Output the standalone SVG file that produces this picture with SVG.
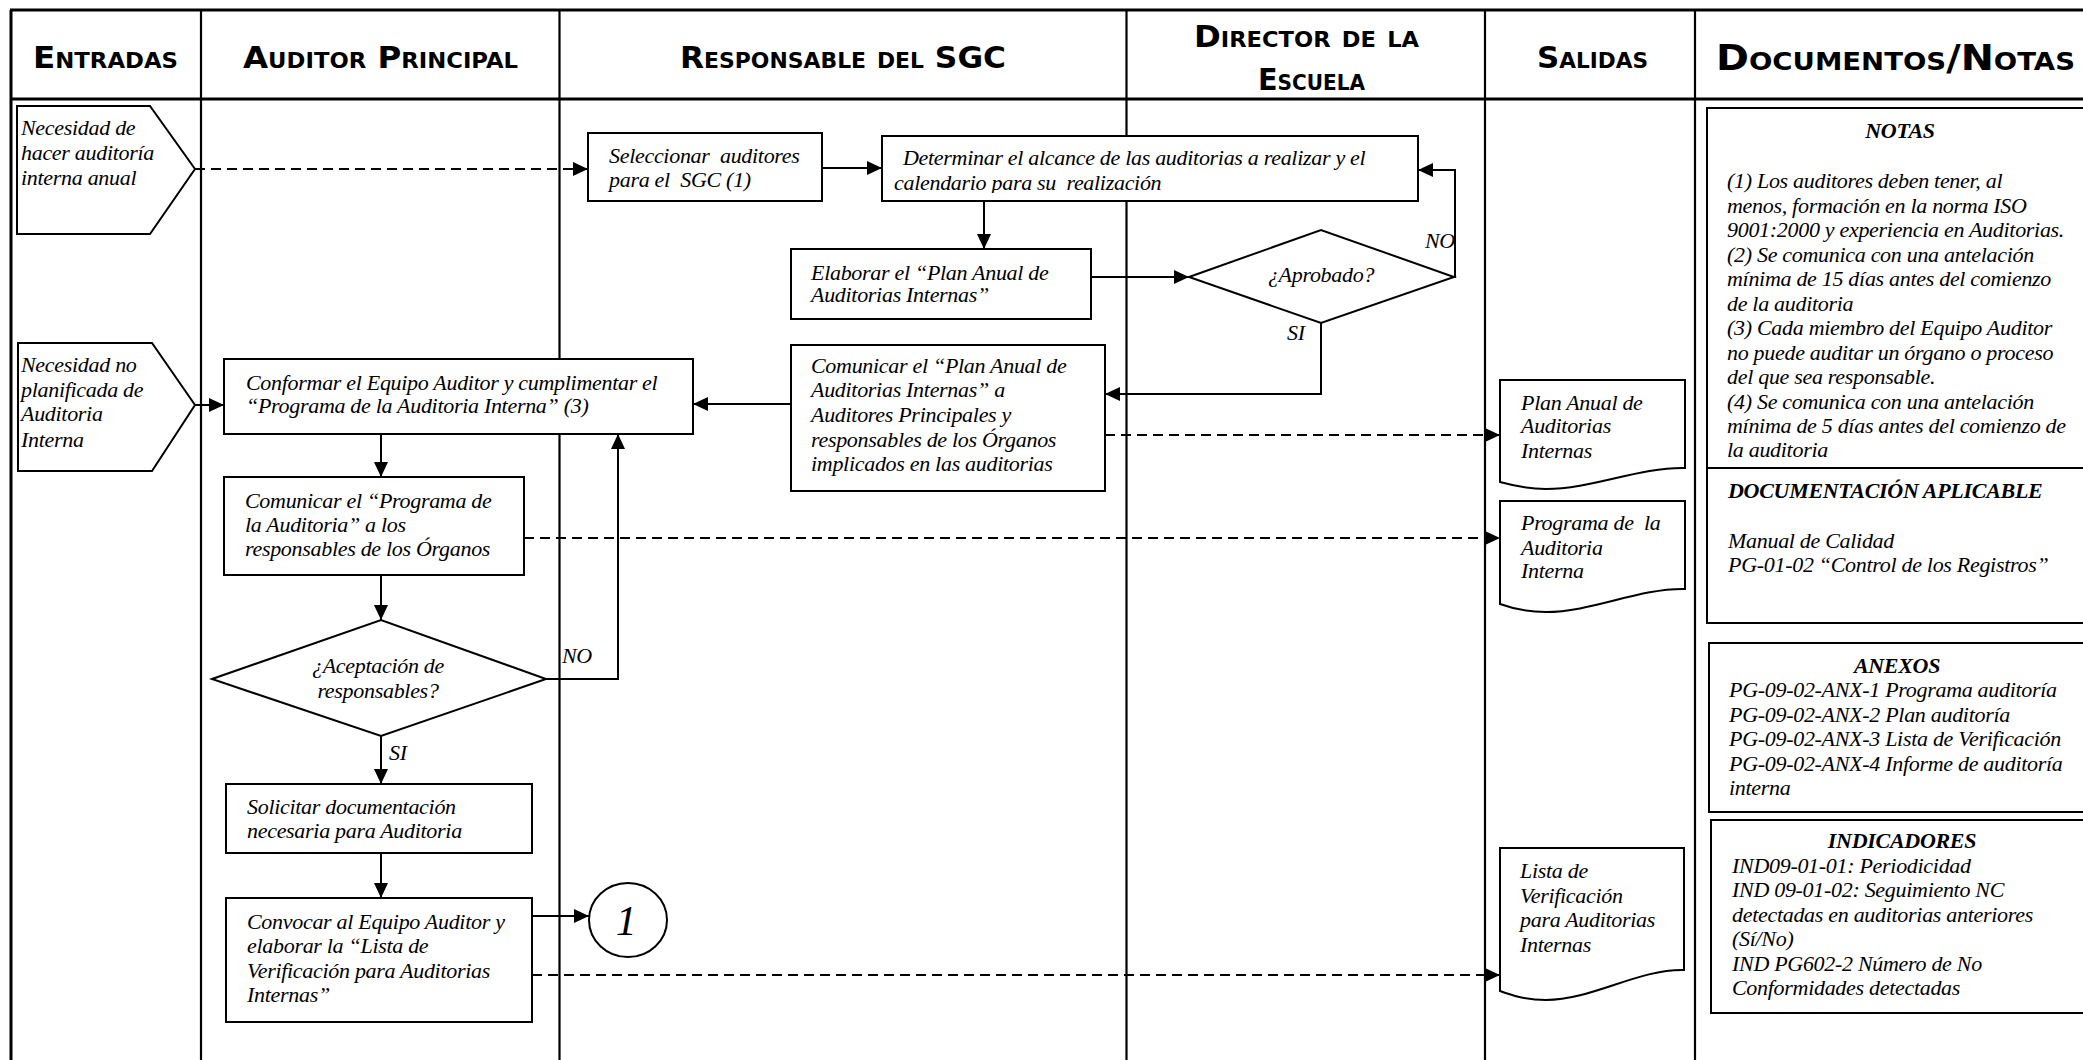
<svg xmlns="http://www.w3.org/2000/svg" width="2083" height="1060" viewBox="0 0 2083 1060">
<style>
.bg{fill:#fff}
.frame{stroke:#000;stroke-width:3;fill:none}
.lane{stroke:#000;stroke-width:2.2;fill:none}
.box{fill:#fff;stroke:#000;stroke-width:2}
.conn{stroke:#000;stroke-width:2;fill:none}
.dash{stroke-dasharray:10 6}
.t{font-family:"Liberation Serif","Times New Roman",serif;font-style:italic;font-size:22px;letter-spacing:-0.3px;fill:#000;white-space:pre}
.b{font-weight:bold}
.mid{text-anchor:middle}
.hd{font-family:"DejaVu Sans",sans-serif;font-weight:bold;font-variant:small-caps;font-size:30px;fill:#000}
.hd2{font-size:36px}
</style>
<defs>
<marker id="arr" markerUnits="userSpaceOnUse" markerWidth="15" markerHeight="14" refX="15" refY="7" orient="auto">
<path d="M0,0 L15,7 L0,14 Z" fill="#000"/>
</marker>
<clipPath id="clipDet"><rect x="882" y="136" width="536" height="57"/></clipPath>
</defs>
<rect class="bg" x="0" y="0" width="2083" height="1060"/>

<g id="lanes">
<line class="frame" x1="10" y1="10" x2="2083" y2="10"/>
<line class="frame" x1="10" y1="99" x2="2083" y2="99"/>
<line class="frame" x1="11" y1="10" x2="11" y2="1060"/>
<line class="lane" x1="201" y1="10" x2="201" y2="1060"/>
<line class="lane" x1="559.5" y1="10" x2="559.5" y2="1060"/>
<line class="lane" x1="1126.5" y1="10" x2="1126.5" y2="1060"/>
<line class="lane" x1="1485" y1="10" x2="1485" y2="1060"/>
<line class="lane" x1="1695" y1="10" x2="1695" y2="1060"/>
</g>

<g id="headers">
<text class="hd" x="33" y="68" textLength="145" lengthAdjust="spacingAndGlyphs">Entradas</text>
<text class="hd" x="243" y="68" textLength="275" lengthAdjust="spacingAndGlyphs">Auditor Principal</text>
<text class="hd" x="680" y="68" textLength="326" lengthAdjust="spacingAndGlyphs">Responsable del SGC</text>
<text class="hd" x="1194" y="47" textLength="225" lengthAdjust="spacingAndGlyphs">Director de la</text>
<text class="hd" x="1258" y="90" textLength="107" lengthAdjust="spacingAndGlyphs">Escuela</text>
<text class="hd" x="1537" y="68" textLength="111" lengthAdjust="spacingAndGlyphs">Salidas</text>
<text class="hd hd2" x="1716" y="70" textLength="359" lengthAdjust="spacingAndGlyphs">Documentos/Notas</text>
</g>

<g id="connectors">
<line class="conn dash" x1="195" y1="169" x2="588" y2="169" marker-end="url(#arr)"/>
<line class="conn" x1="822" y1="168" x2="882" y2="168" marker-end="url(#arr)"/>
<line class="conn" x1="984" y1="201" x2="984" y2="249" marker-end="url(#arr)"/>
<line class="conn" x1="1091" y1="277" x2="1189" y2="277" marker-end="url(#arr)"/>
<polyline class="conn" points="1454,277 1455,277 1455,170 1418,170" marker-end="url(#arr)"/>
<polyline class="conn" points="1321,323 1321,394 1105,394" marker-end="url(#arr)"/>
<line class="conn" x1="791" y1="404" x2="693" y2="404" marker-end="url(#arr)"/>
<line class="conn dash" x1="1105" y1="435" x2="1500" y2="435" marker-end="url(#arr)"/>
<line class="conn" x1="195" y1="405" x2="224" y2="405" marker-end="url(#arr)"/>
<line class="conn" x1="381" y1="434" x2="381" y2="477" marker-end="url(#arr)"/>
<line class="conn dash" x1="524" y1="538" x2="1500" y2="538" marker-end="url(#arr)"/>
<line class="conn" x1="381" y1="575" x2="381" y2="620" marker-end="url(#arr)"/>
<polyline class="conn" points="546,679 618,679 618,434" marker-end="url(#arr)"/>
<line class="conn" x1="381" y1="736" x2="381" y2="784" marker-end="url(#arr)"/>
<line class="conn" x1="381" y1="853" x2="381" y2="898" marker-end="url(#arr)"/>
<line class="conn" x1="521" y1="916" x2="589" y2="916" marker-end="url(#arr)"/>
<line class="conn dash" x1="532" y1="975" x2="1500" y2="975" marker-end="url(#arr)"/>
<text class="t" x="1425" y="248">NO</text>
<text class="t" x="1287" y="340">SI</text>
<text class="t" x="562" y="663">NO</text>
<text class="t" x="389" y="760">SI</text>
</g>

<g id="in1">
<polygon class="box" points="17,106 150,106 195,169 150,234 17,234"/>
<text class="t" x="21" y="135">Necesidad de</text>
<text class="t" x="21" y="160">hacer auditoría</text>
<text class="t" x="21" y="185">interna anual</text>
</g>

<g id="in2">
<polygon class="box" points="18,343 152,343 195,405 152,471 18,471"/>
<text class="t" x="21" y="372">Necesidad no</text>
<text class="t" x="21" y="397">planificada de</text>
<text class="t" x="21" y="421">Auditoria</text>
<text class="t" x="21" y="447">Interna</text>
</g>

<g id="seleccionar">
<rect class="box" x="588" y="133" width="234" height="68"/>
<text class="t" x="609" y="163" xml:space="preserve">Seleccionar  auditores</text>
<text class="t" x="609" y="187" xml:space="preserve">para el  SGC (1)</text>
</g>

<g id="determinar">
<rect class="box" x="882" y="136" width="536" height="65"/>
<g clip-path="url(#clipDet)">
<text class="t" x="903" y="165">Determinar el alcance de las auditorias a realizar y el</text>
<text class="t" x="894" y="190" xml:space="preserve">calendario para su  realización</text>
</g>
</g>

<g id="elaborar">
<rect class="box" x="791" y="249" width="300" height="70"/>
<text class="t" x="811" y="280">Elaborar el “Plan Anual de</text>
<text class="t" x="811" y="302">Auditorias Internas”</text>
</g>

<g id="aprobado">
<polygon class="box" points="1189,277 1321,230 1454,277 1321,323"/>
<text class="t mid" x="1321" y="282">¿Aprobado?</text>
</g>

<g id="comunicarPlan">
<rect class="box" x="791" y="345" width="314" height="146"/>
<text class="t" x="811" y="373">Comunicar el “Plan Anual de</text>
<text class="t" x="811" y="397">Auditorias Internas” a</text>
<text class="t" x="811" y="422">Auditores Principales y</text>
<text class="t" x="811" y="447">responsables de los Órganos</text>
<text class="t" x="811" y="471">implicados en las auditorias</text>
</g>

<g id="conformar">
<rect class="box" x="224" y="359" width="469" height="75"/>
<text class="t" x="246" y="390">Conformar el Equipo Auditor y cumplimentar el</text>
<text class="t" x="246" y="413">“Programa de la Auditoria Interna” (3)</text>
</g>

<g id="comunicarPrograma">
<rect class="box" x="224" y="477" width="300" height="98"/>
<text class="t" x="245" y="508">Comunicar el “Programa de</text>
<text class="t" x="245" y="532">la Auditoria” a los</text>
<text class="t" x="245" y="556">responsables de los Órganos</text>
</g>

<g id="aceptacion">
<polygon class="box" points="212,679 381,620 546,679 381,736"/>
<text class="t mid" x="378" y="673">¿Aceptación de</text>
<text class="t mid" x="378" y="698">responsables?</text>
</g>

<g id="solicitar">
<rect class="box" x="226" y="784" width="306" height="69"/>
<text class="t" x="247" y="814">Solicitar documentación</text>
<text class="t" x="247" y="838">necesaria para Auditoria</text>
</g>

<g id="convocar">
<rect class="box" x="226" y="898" width="306" height="124"/>
<text class="t" x="247" y="929">Convocar al Equipo Auditor y</text>
<text class="t" x="247" y="953">elaborar la “Lista de</text>
<text class="t" x="247" y="978">Verificación para Auditorias</text>
<text class="t" x="247" y="1002">Internas”</text>
</g>

<g id="conector1">
<ellipse class="box" cx="628" cy="920" rx="39" ry="37"/>
<text class="t mid" x="626" y="935" style="font-size:42px">1</text>
</g>

<g id="planAnualDoc">
<path class="box" d="M1500,380 H1685 V468 C1639,467 1592,489 1546,489 C1525,489 1511,485 1500,482 Z"/>
<text class="t" x="1521" y="410">Plan Anual de</text>
<text class="t" x="1521" y="433">Auditorias</text>
<text class="t" x="1521" y="458">Internas</text>
</g>

<g id="programaDoc">
<path class="box" d="M1500,501 H1685 V589 C1639,588 1592,612 1546,612 C1525,612 1511,608 1500,604 Z"/>
<text class="t" x="1521" y="530" xml:space="preserve">Programa de  la</text>
<text class="t" x="1521" y="555">Auditoria</text>
<text class="t" x="1521" y="578">Interna</text>
</g>

<g id="listaDoc">
<path class="box" d="M1500,848 H1684 V970 C1638,969 1592,1000 1546,1000 C1525,1000 1511,995 1500,991 Z"/>
<text class="t" x="1520" y="878">Lista de</text>
<text class="t" x="1520" y="903">Verificación</text>
<text class="t" x="1520" y="927">para Auditorias</text>
<text class="t" x="1520" y="952">Internas</text>
</g>

<g id="notas">
<rect class="box" x="1707" y="108" width="400" height="360"/>
<text class="t b mid" x="1900" y="138">NOTAS</text>
<text class="t" x="1727" y="188">(1) Los auditores deben tener, al</text>
<text class="t" x="1727" y="213">menos, formación en la norma ISO</text>
<text class="t" x="1727" y="237">9001:2000 y experiencia en Auditorias.</text>
<text class="t" x="1727" y="262">(2) Se comunica con una antelación</text>
<text class="t" x="1727" y="286">mínima de 15 días antes del comienzo</text>
<text class="t" x="1727" y="311">de la auditoria</text>
<text class="t" x="1727" y="335">(3) Cada miembro del Equipo Auditor</text>
<text class="t" x="1727" y="360">no puede auditar un órgano o proceso</text>
<text class="t" x="1727" y="384">del que sea responsable.</text>
<text class="t" x="1727" y="409">(4) Se comunica con una antelación</text>
<text class="t" x="1727" y="433">mínima de 5 días antes del comienzo de</text>
<text class="t" x="1727" y="457">la auditoria</text>
</g>

<g id="documentacion">
<rect class="box" x="1707" y="468" width="400" height="155"/>
<text class="t b" x="1728" y="498">DOCUMENTACIÓN APLICABLE</text>
<text class="t" x="1728" y="548">Manual de Calidad</text>
<text class="t" x="1728" y="572">PG-01-02 “Control de los Registros”</text>
</g>

<g id="anexos">
<rect class="box" x="1709" y="643" width="400" height="169"/>
<text class="t b mid" x="1897" y="673">ANEXOS</text>
<text class="t" x="1729" y="697">PG-09-02-ANX-1 Programa auditoría</text>
<text class="t" x="1729" y="722">PG-09-02-ANX-2 Plan auditoría</text>
<text class="t" x="1729" y="746">PG-09-02-ANX-3 Lista de Verificación</text>
<text class="t" x="1729" y="771">PG-09-02-ANX-4 Informe de auditoría</text>
<text class="t" x="1729" y="795">interna</text>
</g>

<g id="indicadores">
<rect class="box" x="1711" y="820" width="400" height="193"/>
<text class="t b mid" x="1902" y="848">INDICADORES</text>
<text class="t" x="1732" y="873">IND09-01-01: Periodicidad</text>
<text class="t" x="1732" y="897">IND 09-01-02: Seguimiento NC</text>
<text class="t" x="1732" y="922">detectadas en auditorias anteriores</text>
<text class="t" x="1732" y="946">(Sí/No)</text>
<text class="t" x="1732" y="971">IND PG602-2 Número de No</text>
<text class="t" x="1732" y="995">Conformidades detectadas</text>
</g>
</svg>
